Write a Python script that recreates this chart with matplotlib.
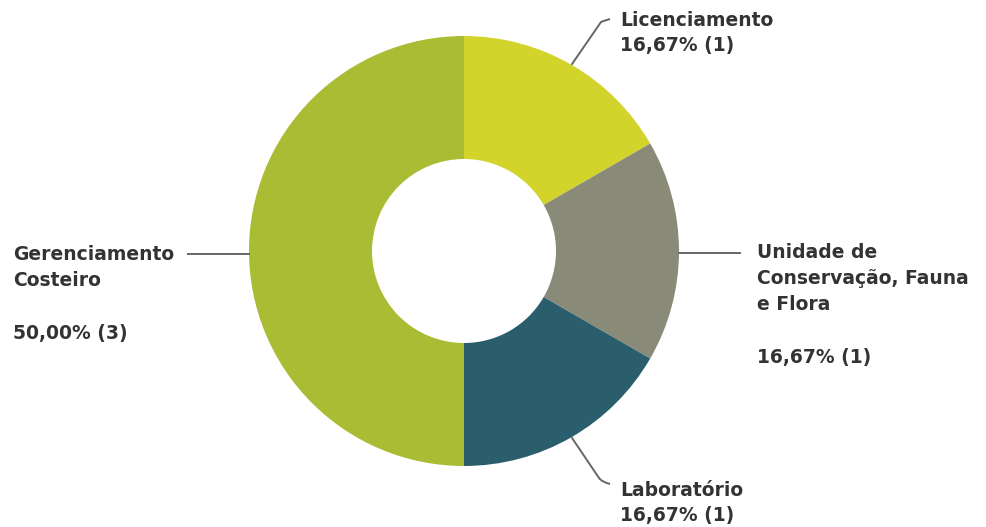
import numpy as np
import matplotlib
matplotlib.use("Agg")
import matplotlib.pyplot as plt
from matplotlib.path import Path
from matplotlib.patches import PathPatch

plt.rcParams["font.family"] = ["DejaVu Sans"]

labels = ["Licenciamento", "Unidade de\nConservação, Fauna\ne Flora", "Laboratório", "Gerenciamento\nCosteiro"]
counts = [1, 1, 1, 3]
colors = ["#d3d42b", "#8a8a79", "#2b5e6d", "#aabc33"]

W, H = 986, 527
fig = plt.figure(figsize=(W / 100, H / 100), dpi=100)
ax = fig.add_axes([0, 0, 1, 1])
ax.axis("off")

cx, cy = 464, H - 251
R = 215
hole = 92
wedges, _ = ax.pie(counts, radius=R, center=(cx, cy), startangle=90, counterclock=False,
                   colors=colors, wedgeprops=dict(width=R - hole, edgecolor="none", linewidth=0))
ax.set_xlim(0, W)
ax.set_ylim(0, H)

total = sum(counts)
pct = [f"{c / total * 100:.2f}".replace(".", ",") + f"% ({c})" for c in counts]

tc = "#333333"
lc = "#666666"
fs = 13.5
fw = "bold"

def Y(y):
    return H - y

def anchor(w):
    ang = np.deg2rad((w.theta1 + w.theta2) / 2)
    return cx + R * np.cos(ang), cy + R * np.sin(ang)

def txt(x, y, s):
    ax.text(x, Y(y), s, ha="left", va="center", fontsize=fs, fontweight=fw, color=tc)

# Licenciamento (upper right, curved leader)
ax0, ay0 = anchor(wedges[0])
p = Path([(ax0, ay0), (601, Y(22)), (603, Y(21)), (610, Y(19))],
         [Path.MOVETO, Path.LINETO, Path.CURVE3, Path.CURVE3])
ax.add_patch(PathPatch(p, fc="none", ec=lc, lw=1.4))
txt(620, 20, labels[0])
txt(620, 45, pct[0])

# Unidade (right)
ax1, ay1 = anchor(wedges[1])
ax.plot([ax1, 740], [Y(253), Y(253)], color=lc, lw=1.4)
for i, line in enumerate(labels[1].split("\n")):
    txt(757, 253 + 26 * i, line)
txt(757, 358, pct[1])

# Laboratório (lower right, curved leader)
ax2, ay2 = anchor(wedges[2])
p = Path([(ax2, ay2), (599, Y(478)), (602, Y(482)), (610, Y(484))],
         [Path.MOVETO, Path.LINETO, Path.CURVE3, Path.CURVE3])
ax.add_patch(PathPatch(p, fc="none", ec=lc, lw=1.4))
txt(620, 490, labels[2])
txt(620, 515, pct[2])

# Gerenciamento Costeiro (left)
ax3, ay3 = anchor(wedges[3])
ax.plot([188, ax3], [Y(254), Y(254)], color=lc, lw=1.4)
for i, line in enumerate(labels[3].split("\n")):
    txt(13, 254 + 26 * i, line)
txt(13, 333, pct[3])

fig.savefig("out.png", dpi=100, facecolor="white")
